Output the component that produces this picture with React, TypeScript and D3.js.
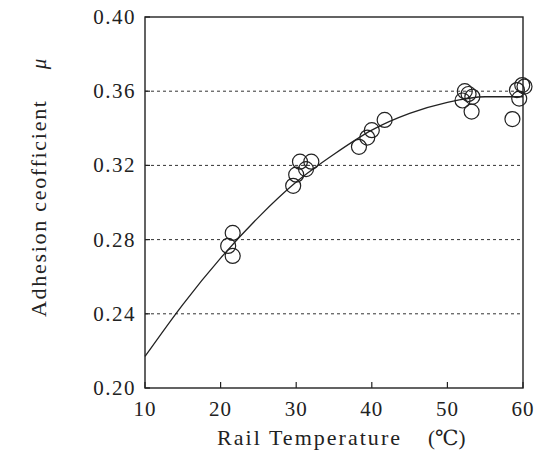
import React from 'react'
import * as d3 from 'd3'

const [W, H] = [547, 455]
const margin = { left: 145, right: 24, top: 17, bottom: 67 }

// measured points, rail temperature (°C) and adhesion coefficient
const tempC = [21.0, 21.6, 21.6, 29.6, 30.0, 30.5, 31.3, 32.0, 38.3, 39.4, 40.0, 41.7, 52.0, 52.3, 52.8, 53.3, 53.2, 58.6, 59.2, 59.5, 59.9, 60.2]
const mu = [0.2766, 0.2836, 0.2712, 0.309, 0.315, 0.322, 0.318, 0.322, 0.330, 0.335, 0.339, 0.3445, 0.355, 0.360, 0.3585, 0.357, 0.349, 0.345, 0.3606, 0.356, 0.3633, 0.3625]

// fitted curve
const curveT = [10, 15, 20, 25, 30, 35, 40, 45, 50, 55, 60]
const curveMu = [0.217, 0.245, 0.270, 0.292, 0.311, 0.326, 0.339, 0.348, 0.354, 0.357, 0.357]

const xTicks = [10, 20, 30, 40, 50, 60]
const yTicks = [0.20, 0.24, 0.28, 0.32, 0.36, 0.40]
const gridTicks = [0.24, 0.28, 0.32, 0.36]

const FONT = '"Liberation Serif", "DejaVu Serif", serif'

export default function App() {
  const x = d3.scaleLinear().domain([10, 60]).range([margin.left, W - margin.right])
  const y = d3.scaleLinear().domain([0.2, 0.4]).range([H - margin.bottom, margin.top])
  const [x0, x1] = x.range()
  const [y0, y1] = y.range()

  const line = d3.line<number>()
    .x((_, i) => x(curveT[i]))
    .y(d => y(d))
    .curve(d3.curveMonotoneX)

  return (
    <svg width={W} height={H} style={{ position: 'absolute', left: 0, top: 0, background: '#fff' }}>
      {/* dashed grid */}
      {gridTicks.map(t => (
        <line key={t} x1={x0} x2={x1} y1={y(t)} y2={y(t)} stroke="#333" strokeWidth={1} strokeDasharray="3,3" />
      ))}

      {/* frame */}
      <rect x={x0} y={y1} width={x1 - x0} height={y0 - y1} fill="none" stroke="#222" strokeWidth={1.4} />

      {/* ticks */}
      {xTicks.map(t => (
        <g key={t}>
          <line x1={x(t)} x2={x(t)} y1={y0} y2={y0 - 6} stroke="#222" strokeWidth={1.2} />
          <text x={x(t)} y={y0 + 28} textAnchor="middle" fontFamily={FONT} fontSize={21} letterSpacing={1} fill="#222">{t}</text>
        </g>
      ))}
      {yTicks.map(t => (
        <g key={t}>
          <line x1={x0} x2={x0 + 5} y1={y(t)} y2={y(t)} stroke="#222" strokeWidth={1.2} />
          <text x={x0 - 9} y={y(t) + 7} textAnchor="end" fontFamily={FONT} fontSize={21} letterSpacing={1.5} fill="#222">{d3.format('.2f')(t)}</text>
        </g>
      ))}

      {/* fit curve */}
      <path d={line(curveMu) ?? ''} fill="none" stroke="#222" strokeWidth={1.3} />

      {/* points */}
      {tempC.map((t, i) => (
        <circle key={i} cx={x(t)} cy={y(mu[i])} r={7.5} fill="none" stroke="#222" strokeWidth={1.2} />
      ))}

      {/* axis titles */}
      <text x={217} y={445} fontFamily={FONT} fontSize={22} fill="#222" textLength={183}>Rail Temperature</text>
      <text x={428} y={445} fontFamily={FONT} fontSize={21} fill="#222">(℃)</text>
      <g transform="translate(46, 209) rotate(-90)">
        <text x={0} y={0} textAnchor="middle" fontFamily={FONT} fontSize={22} fill="#222" textLength={216} lengthAdjust="spacing">Adhesion ceofficient</text>
      </g>
      <g transform="translate(46, 64) rotate(-90)">
        <text x={0} y={0} textAnchor="middle" fontFamily={FONT} fontStyle="italic" fontSize={21} fill="#222">μ</text>
      </g>
    </svg>
  )
}
